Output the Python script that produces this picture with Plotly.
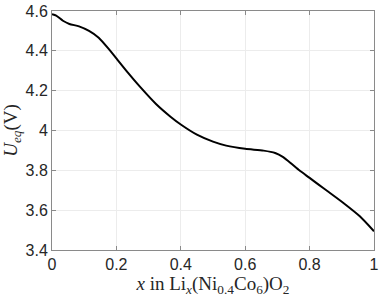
import plotly.graph_objects as go

# stoichiometry x and equilibrium potential (V)
x_li = [0.0, 0.013, 0.034, 0.054, 0.084, 0.115, 0.145, 0.176, 0.2, 0.237, 0.273,
        0.323, 0.369, 0.4, 0.45, 0.5, 0.541, 0.6, 0.657, 0.693, 0.718, 0.743,
        0.768, 0.8, 0.829, 0.855, 0.905, 0.956, 1.0]
u_eq = [4.584, 4.577, 4.551, 4.535, 4.523, 4.50, 4.466, 4.410, 4.362, 4.288, 4.220,
        4.133, 4.068, 4.030, 3.979, 3.944, 3.924, 3.908, 3.899, 3.887, 3.866, 3.834,
        3.800, 3.762, 3.727, 3.696, 3.636, 3.569, 3.494]

x_ticks = [0, 0.2, 0.4, 0.6, 0.8, 1]
y_ticks = [3.4, 3.6, 3.8, 4, 4.2, 4.4, 4.6]

fig = go.Figure()
fig.add_trace(go.Scatter(x=x_li, y=u_eq, mode='lines',
    line=dict(color='black', width=2, shape='spline', smoothing=0.6)))

axis_style = dict(
    showline=True, linecolor='#8a8a8a', linewidth=1, mirror='ticks',
    ticks='inside', ticklen=4, tickcolor='#8a8a8a',
    showgrid=True, gridcolor='#ececec', gridwidth=1, zeroline=False,
    ticklabeloverflow='allow',
    tickfont=dict(family='Liberation Sans', size=16, color='#262626'),
)

fig.update_xaxes(axis_style, range=[0, 1], tickvals=x_ticks,
    title=dict(text='<i>x</i> in Li<sub><i>x</i></sub>(Ni<sub>0.4</sub>Co<sub>6</sub>)O<sub>2</sub>',
               font=dict(family='Liberation Serif', size=19, color='#262626'), standoff=4))
fig.update_yaxes(axis_style, range=[3.4, 4.6], tickvals=y_ticks,
    title=dict(text='<i>U</i><sub><i>eq</i></sub>(V)',
               font=dict(family='Liberation Serif', size=19, color='#262626'), standoff=4))

fig.update_layout(
    width=382, height=298,
    margin=dict(l=52, r=3, t=7, b=48),
    plot_bgcolor='white', paper_bgcolor='white',
    showlegend=False,
)

fig.write_html("out.html", config={'displayModeBar': False},
               post_script="document.body.style.margin='0';")
